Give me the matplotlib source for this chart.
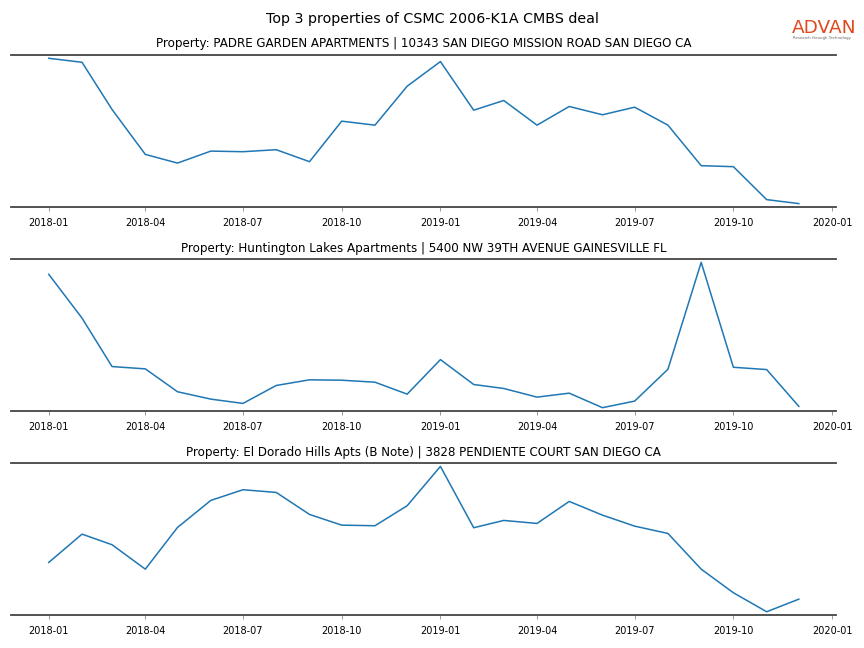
import numpy as np
import pandas as pd
import matplotlib
matplotlib.use("Agg")
import matplotlib.pyplot as plt
import matplotlib.dates as mdates

months = pd.date_range("2018-01-01", "2019-12-01", freq="MS")

titles = [
    "Property: PADRE GARDEN APARTMENTS | 10343 SAN DIEGO MISSION ROAD SAN DIEGO CA",
    "Property: Huntington Lakes Apartments | 5400 NW 39TH AVENUE GAINESVILLE FL",
    "Property: El Dorado Hills Apts (B Note) | 3828 PENDIENTE COURT SAN DIEGO CA",
]

# visits per month (relative units)
padre = [151.3, 147.3, 100.0, 55.0, 46.3, 58.3, 57.7, 59.7, 47.7, 88.3, 84.3, 123.3,
         148.0, 99.3, 109.0, 84.3, 103.0, 94.7, 102.3, 84.3, 43.7, 42.7, 9.7, 5.7]
huntington = [135.7, 91.7, 43.0, 40.7, 17.7, 10.3, 6.0, 24.0, 29.7, 29.3, 27.3, 15.3,
              50.0, 25.0, 21.0, 12.3, 16.3, 1.7, 8.3, 40.3, 147.7, 42.3, 40.0, 3.0]
eldorado = [52.0, 80.3, 69.7, 45.3, 87.0, 114.0, 124.7, 122.0, 100.0, 89.3, 88.7, 108.7,
            148.0, 86.7, 94.0, 91.0, 113.0, 99.3, 88.3, 81.0, 45.3, 21.7, 2.7, 15.3]
series = [padre, huntington, eldorado]

fig, axes = plt.subplots(3, 1, figsize=(8.64, 6.48), dpi=100)
fig.subplots_adjust(left=0.013, right=0.968, top=0.915, bottom=0.051, hspace=0.345)

for ax, title, vals in zip(axes, titles, series):
    ax.plot(months, vals, color="#1f77b4", lw=1.1)
    ax.set_title(title, fontsize=8.6, pad=5.5)
    ax.margins(y=0.022)
    for s in ["left", "right"]:
        ax.spines[s].set_visible(False)
    for s in ["top", "bottom"]:
        ax.spines[s].set_color("#444444")
        ax.spines[s].set_linewidth(1.3)
    ax.set_yticks([])
    ax.xaxis.set_major_locator(mdates.MonthLocator(bymonth=[1, 4, 7, 10]))
    ax.xaxis.set_major_formatter(mdates.DateFormatter("%Y-%m"))
    ax.tick_params(axis="x", labelsize=7, length=3, width=0.6, color="#888888", pad=5)

fig.suptitle("Top 3 properties of CSMC 2006-K1A CMBS deal", fontsize=10.3, y=0.981)

# logo
fig.text(0.9165, 0.957, "ADVAN", color="#e2481e", fontsize=13.3, ha="left", va="center",
         family="DejaVu Sans")
fig.text(0.9175, 0.941, "Research through Technology", color="#666666", fontsize=2.8,
         ha="left", va="center")

fig.savefig("out.png", dpi=100)
